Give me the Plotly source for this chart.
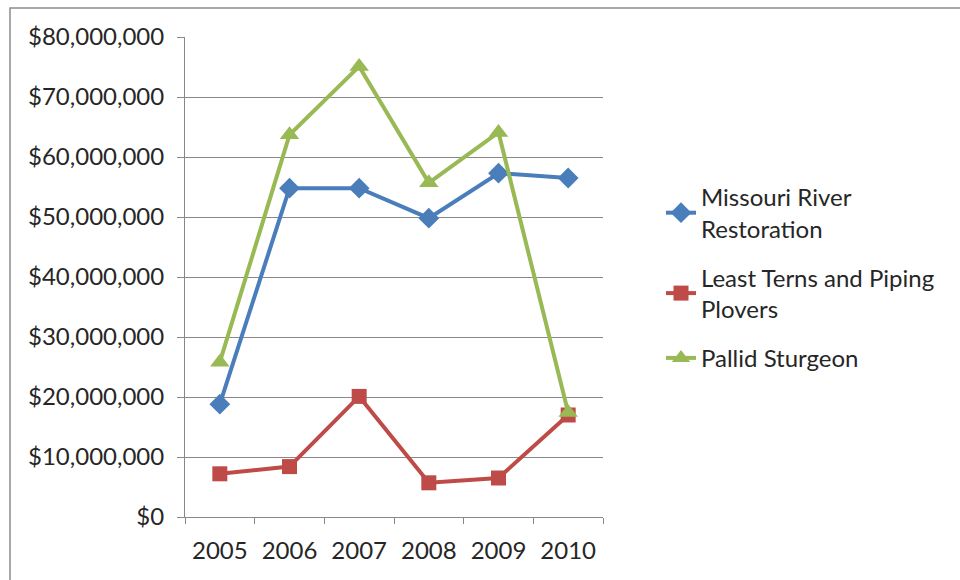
import plotly.graph_objects as go

years = ["2005", "2006", "2007", "2008", "2009", "2010"]
missouri_river = [18.8e6, 54.8e6, 54.8e6, 49.8e6, 57.3e6, 56.5e6]
terns_plovers = [7.2e6, 8.4e6, 20.1e6, 5.7e6, 6.5e6, 17.0e6]
pallid_sturgeon = [25.8e6, 63.7e6, 75.1e6, 55.7e6, 64.1e6, 17.4e6]

y_ticks = [0, 10e6, 20e6, 30e6, 40e6, 50e6, 60e6, 70e6, 80e6]
y_tick_labels = ["$0", "$10,000,000", "$20,000,000", "$30,000,000", "$40,000,000",
                 "$50,000,000", "$60,000,000", "$70,000,000", "$80,000,000"]

FONT = "Lato, 'Open Sans', sans-serif"
TEXT = "#262626"

fig = go.Figure()
fig.add_trace(go.Scatter(
    x=years, y=missouri_river, name="Missouri River<br>Restoration",
    legendgroup="a",
    mode="lines+markers",
    line=dict(color="#4A7EBB", width=4),
    marker=dict(symbol="diamond", size=16, color="#4A7EBB"),
))
fig.add_trace(go.Scatter(
    x=years, y=terns_plovers, name="Least Terns and Piping<br>Plovers",
    legendgroup="b",
    mode="lines+markers",
    line=dict(color="#BE4B48", width=4),
    marker=dict(symbol="square", size=15, color="#BE4B48"),
))
fig.add_trace(go.Scatter(
    x=years, y=pallid_sturgeon, name="Pallid Sturgeon",
    legendgroup="c",
    mode="lines+markers",
    line=dict(color="#98B954", width=4),
    marker=dict(symbol="triangle-up", size=17, color="#98B954"),
))

fig.update_layout(
    width=960, height=580,
    margin=dict(l=185, r=357, t=37, b=63),
    paper_bgcolor="white", plot_bgcolor="white",
    font=dict(family=FONT, size=24, color=TEXT),
    showlegend=True,
    legend=dict(
        x=(661 - 185) / 418, y=(517 - 175) / 480, xanchor="left", yanchor="top",
        font=dict(family=FONT, size=24, color=TEXT),
        tracegroupgap=15, itemwidth=30,
        bgcolor="rgba(0,0,0,0)",
    ),
    xaxis=dict(
        type="category", tickson="boundaries",
        ticks="outside", ticklen=6, tickcolor="#888888", tickwidth=1,
        showline=True, linecolor="#888888", linewidth=1,
        showgrid=False, zeroline=False,
        tickfont=dict(family=FONT, size=24, color=TEXT),
        ticklabelstandoff=12,
        range=[-0.5, 5.5],
    ),
    yaxis=dict(
        range=[0, 80e6],
        tickvals=y_ticks, ticktext=y_tick_labels,
        ticks="outside", ticklen=7, tickcolor="#888888", tickwidth=1,
        showline=True, linecolor="#888888", linewidth=1,
        showgrid=True, gridcolor="#888888", gridwidth=1,
        zeroline=False,
        tickfont=dict(family=FONT, size=24, color=TEXT),
        ticklabelstandoff=8,
    ),
    shapes=[
        # outer chart frame (top and left edges visible in the window)
        dict(type="rect", xref="paper", yref="paper",
             x0=(10 - 185) / 418, x1=(990 - 185) / 418,
             y0=(517 - 620) / 480, y1=(517 - 8) / 480,
             line=dict(color="#8C8C8C", width=1.5), fillcolor="rgba(0,0,0,0)",
             layer="below"),
    ],
)

fig.write_html("out.html")
